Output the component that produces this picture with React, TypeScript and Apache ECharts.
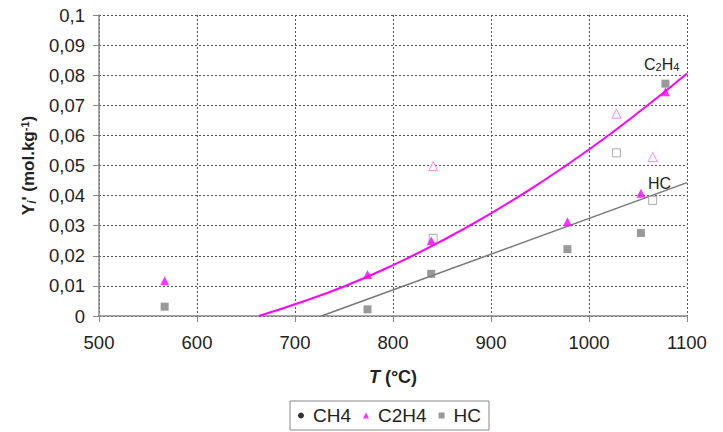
import React, { useEffect, useRef } from 'react';
import * as echarts from 'echarts';

const xTicks = [500, 600, 700, 800, 900, 1000, 1100];
const c2h4Filled = [[567, 0.0117], [774, 0.0138], [839, 0.025], [978, 0.0313], [1053, 0.0408], [1078, 0.0745]];
const hcFilled = [[567, 0.0031], [774, 0.0022], [839, 0.014], [978, 0.0222], [1053, 0.0276], [1078, 0.0772]];
const c2h4Open = [[841, 0.0498], [1028, 0.0672], [1065, 0.0528]];
const hcOpen = [[841, 0.0258], [1028, 0.0542], [1065, 0.0384]];
const c2h4Trend = [[663, 0], [700, 0.0039], [750, 0.0098], [800, 0.0169], [850, 0.025], [900, 0.0341], [950, 0.0442], [1000, 0.0553], [1050, 0.0675], [1100, 0.0806]];
const hcTrend = [[727, 0], [1100, 0.0443]];
const ch4Data: number[][] = [];

const FONT = 'Liberation Sans, Arial, sans-serif';

export default function App() {
  const ref = useRef<HTMLDivElement>(null);
  useEffect(() => {
    if (!ref.current) return;
    const chart = echarts.init(ref.current, undefined, { renderer: 'svg' });
    chart.setOption({
      animation: false,
      backgroundColor: '#fff',
      textStyle: { fontFamily: FONT },
      grid: { left: 99, right: 36, top: 15, bottom: 116 },
      xAxis: {
        type: 'value', min: xTicks[0], max: xTicks[xTicks.length - 1], interval: 100,
        name: '{t|T}{n| (°C)}', nameLocation: 'middle', nameGap: 52,
        nameTextStyle: {
          rich: {
            t: { fontFamily: FONT, fontSize: 18, fontWeight: 'bold', fontStyle: 'italic', color: '#222' },
            n: { fontFamily: FONT, fontSize: 18, fontWeight: 'bold', color: '#222' },
          },
        },
        axisLine: { show: true, lineStyle: { color: '#888', width: 1.5 } },
        axisTick: { show: true, inside: false, length: 6, lineStyle: { color: '#888' } },
        axisLabel: { fontSize: 18.5, color: '#222', margin: 17, fontFamily: FONT, formatter: (v: number) => String(v) },
        splitLine: { show: true, lineStyle: { color: '#555', type: [2, 2], width: 1 } },
      },
      yAxis: {
        type: 'value', min: 0, max: 0.1, interval: 0.01,
        name: "{b|Y}{i|i}{b|' (mol.kg}{s|-1}{b|)}", nameLocation: 'middle', nameGap: 60, nameRotate: 90,
        nameTextStyle: {
          rich: {
            b: { fontFamily: FONT, fontSize: 17, fontWeight: 'bold', color: '#222' },
            i: { fontFamily: FONT, fontSize: 12, fontWeight: 'bold', fontStyle: 'italic', color: '#222', verticalAlign: 'bottom', padding: [7, 0, 0, 0] },
            s: { fontFamily: FONT, fontSize: 11, fontWeight: 'bold', color: '#222', verticalAlign: 'top', padding: [0, 0, 8, 0] },
          },
        },
        axisLine: { show: true, lineStyle: { color: '#888', width: 1.5 } },
        axisTick: { show: true, inside: false, length: 6, lineStyle: { color: '#888' } },
        axisLabel: {
          fontSize: 18.5, color: '#222', margin: 14, fontFamily: FONT,
          formatter: (v: number) => String(Math.round(v * 100) / 100).replace('.', ','),
        },
        splitLine: { show: true, lineStyle: { color: '#555', type: [2, 2], width: 1 } },
      },
      legend: {
        bottom: 2, left: 290,
        data: [
          { name: 'CH4', icon: 'circle', itemStyle: { color: '#000' } },
          { name: 'C2H4', icon: 'triangle', itemStyle: { color: '#ff00ff' } },
          { name: 'HC', icon: 'rect', itemStyle: { color: '#808080' } },
        ],
        itemWidth: 6, itemHeight: 6, itemGap: 12,
        borderColor: '#888', borderWidth: 1, padding: [5, 8, 5, 8], borderRadius: 0,
        textStyle: { fontSize: 19, color: '#222', fontFamily: FONT, padding: [0, 0, 0, 4] },
      },
      graphic: [
        {
          type: 'text', left: 644, top: 56,
          style: {
            text: '{a|C}{s|2}{a|H}{s|4}',
            rich: {
              a: { fontFamily: FONT, fontSize: 16, fill: '#222' },
              s: { fontFamily: FONT, fontSize: 11, fill: '#222', verticalAlign: 'bottom', padding: [6, 0, 0, 0] },
            },
          },
        },
        {
          type: 'text', left: 648, top: 175,
          style: { text: 'HC', font: `16px ${FONT}`, fill: '#222' },
        },
      ],
      series: [
        { name: 'CH4', type: 'scatter', data: ch4Data, symbol: 'circle', symbolSize: 6, itemStyle: { color: '#000' } },
        {
          name: 'C2H4 trend', type: 'line', data: c2h4Trend, smooth: true, showSymbol: false, symbol: 'none',
          lineStyle: { color: '#ff00ff', width: 2 }, z: 2,
        },
        {
          name: 'HC trend', type: 'line', data: hcTrend, showSymbol: false, symbol: 'none',
          lineStyle: { color: '#777', width: 1.5 }, z: 2,
        },
        {
          name: 'HC open', type: 'scatter', data: hcOpen, symbol: 'rect', symbolSize: 8,
          itemStyle: { color: '#fff', borderColor: '#999', borderWidth: 1 }, z: 3,
        },
        {
          name: 'C2H4 open', type: 'scatter', data: c2h4Open, symbol: 'triangle', symbolSize: 9,
          itemStyle: { color: '#fff', borderColor: '#ff66ff', borderWidth: 1 }, z: 3,
        },
        {
          name: 'HC', type: 'scatter', data: hcFilled, symbol: 'rect', symbolSize: 8,
          itemStyle: { color: '#808080' }, z: 4,
        },
        {
          name: 'C2H4', type: 'scatter', data: c2h4Filled, symbol: 'triangle', symbolSize: 9,
          itemStyle: { color: '#ff00ff' }, z: 5,
        },
      ],
    });
    return () => chart.dispose();
  }, []);
  return <div ref={ref} style={{ width: 723, height: 432, position: 'absolute', left: 0, top: 0 }} />;
}
